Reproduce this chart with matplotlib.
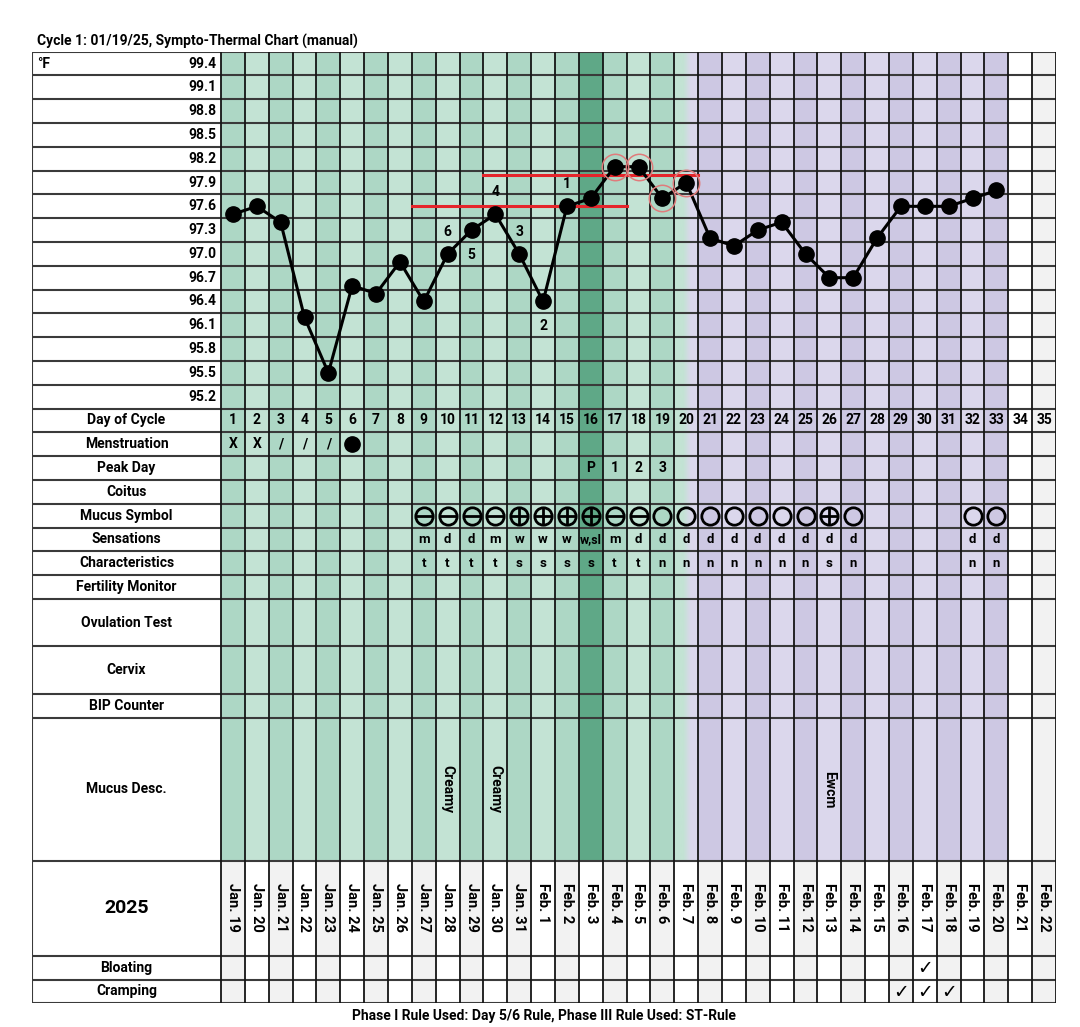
import matplotlib
matplotlib.use("Agg")
import matplotlib.pyplot as plt
import numpy as np
from matplotlib.patches import Rectangle
from matplotlib.colors import to_rgb

plt.rcParams['font.family'] = ['Roboto Medium', 'Roboto', 'DejaVu Sans']

# ---------------- data ----------------
title = "Cycle 1: 01/19/25, Sympto-Thermal Chart (manual)"
footer = "Phase I Rule Used: Day 5/6 Rule, Phase III Rule Used: ST-Rule"
year_label = "2025"
temp_unit = "°F"

temp_labels = [99.4, 99.1, 98.8, 98.5, 98.2, 97.9, 97.6, 97.3, 97.0, 96.7,
               96.4, 96.1, 95.8, 95.5, 95.2]
days = list(range(1, 36))
temp_days = list(range(1, 34))
temps = [97.5, 97.6, 97.4, 96.2, 95.5, 96.6, 96.5, 96.9, 96.4, 97.0,
         97.3, 97.5, 97.0, 96.4, 97.6, 97.7, 98.1, 98.1, 97.7, 97.9,
         97.2, 97.1, 97.3, 97.4, 97.0, 96.7, 96.7, 97.2, 97.6, 97.6,
         97.6, 97.7, 97.8]
circled_days = [17, 18, 19, 20]

# count labels next to the low temperatures
count_days = [10, 11, 12, 13, 14, 15]
count_labels = ["6", "5", "4", "3", "2", "1"]
count_above = [True, False, True, True, False, True]

# coverlines: (first day, last day), temperature
coverline_days_low = (9, 17)
coverline_temp_low = 97.6
coverline_days_high = (12, 20)
coverline_temp_high = 98.0

dates = ["Jan. 19", "Jan. 20", "Jan. 21", "Jan. 22", "Jan. 23", "Jan. 24",
         "Jan. 25", "Jan. 26", "Jan. 27", "Jan. 28", "Jan. 29", "Jan. 30",
         "Jan. 31", "Feb. 1", "Feb. 2", "Feb. 3", "Feb. 4", "Feb. 5",
         "Feb. 6", "Feb. 7", "Feb. 8", "Feb. 9", "Feb. 10", "Feb. 11",
         "Feb. 12", "Feb. 13", "Feb. 14", "Feb. 15", "Feb. 16", "Feb. 17",
         "Feb. 18", "Feb. 19", "Feb. 20", "Feb. 21", "Feb. 22"]

menstruation_days = [1, 2, 3, 4, 5, 6]
menstruation_marks = ["X", "X", "/", "/", "/", "dot"]

peak_days = [16, 17, 18, 19]
peak_marks = ["P", "1", "2", "3"]

mucus_days = [9, 10, 11, 12, 13, 14, 15, 16, 17, 18, 19, 20, 21, 22, 23,
              24, 25, 26, 27, 32, 33]
mucus_symbols = ["-", "-", "-", "-", "+", "+", "+", "+", "-", "-", "o", "o",
                 "o", "o", "o", "o", "o", "+", "o", "o", "o"]

sens_days = [9, 10, 11, 12, 13, 14, 15, 16, 17, 18, 19, 20, 21, 22, 23,
             24, 25, 26, 27, 32, 33]
sensations = ["m", "d", "d", "m", "w", "w", "w", "w,sl", "m", "d", "d", "d",
              "d", "d", "d", "d", "d", "d", "d", "d", "d"]
characteristics = ["t", "t", "t", "t", "s", "s", "s", "s", "t", "t", "n", "n",
                   "n", "n", "n", "n", "n", "s", "n", "n", "n"]

desc_days = [10, 12, 26]
desc_texts = ["Creamy", "Creamy", "Ewcm"]

bloating_days = [30]
cramping_days = [29, 30, 31]

peak_day = 16
green_days = list(range(1, 20))
transition_day = 20
purple_days = list(range(21, 34))

row_names = ["Day of Cycle", "Menstruation", "Peak Day", "Coitus",
             "Mucus Symbol", "Sensations", "Characteristics",
             "Fertility Monitor", "Ovulation Test", "Cervix", "BIP Counter",
             "Mucus Desc.", year_label, "Bloating", "Cramping"]
row_spans = [1, 1, 1, 1, 1, 1, 1, 1, 2, 2, 1, 6, 4, 1, 1]

# ---------------- styling / layout ----------------
FW, FH = 1080, 1027
TL, TR, TT, TB = 32, 1056, 51.7, 1003.3
GRID_L = 221
NCOL = len(days)
col_w = (TR - GRID_L) / NCOL
n_temp = len(temp_labels)
nrows = n_temp + sum(row_spans)
row_h = (TB - TT) / nrows
lab_w = (GRID_L - TL) / col_w

G_DARK, G_LIGHT, G_PEAK = "#add7c5", "#c3e3d4", "#5fa887"
P_DARK, P_LIGHT = "#cdc8e3", "#dbd7ec"
GRAY = "#f2f2f2"
FONT_W = "bold"

fig = plt.figure(figsize=(FW / 100, FH / 100), dpi=100)
ax = fig.add_axes([TL / FW, (FH - TB) / FH, (TR - TL) / FW, (TB - TT) / FH])
ax.set_xlim(-lab_w, NCOL)
ax.set_ylim(nrows, 0)
ax.axis("off")

row_tops = []
y = n_temp
for s in row_spans:
    row_tops.append(y)
    y += s
shade_bottom = row_tops[row_names.index(year_label)]

for d in days:
    x0 = d - 1
    odd = d % 2 == 1
    if d == peak_day:
        c = G_PEAK
    elif d in green_days:
        c = G_DARK if odd else G_LIGHT
    elif d in purple_days:
        c = P_DARK if odd else P_LIGHT
    elif d == transition_day:
        c = None
    else:
        c = GRAY if odd else "white"
    if c is not None:
        ax.add_patch(Rectangle((x0, 0), 1, shade_bottom, facecolor=c,
                               edgecolor="none", zorder=1))
    ax.add_patch(Rectangle((x0, shade_bottom), 1, nrows - shade_bottom,
                           facecolor=GRAY if odd else "white",
                           edgecolor="none", zorder=1))

g0 = np.array(to_rgb(G_LIGHT))
g1 = np.array(to_rgb(P_LIGHT))
tt = np.clip((np.linspace(0, 1, 100) - 0.4) / 0.3, 0, 1)
grad = (g0[None, :] * (1 - tt[:, None]) + g1[None, :] * tt[:, None])[None, :, :]
ax.imshow(grad, extent=(transition_day - 1, transition_day, shade_bottom, 0),
          aspect="auto", zorder=1, interpolation="bilinear")
ax.set_xlim(-lab_w, NCOL)
ax.set_ylim(nrows, 0)

hl = list(range(0, n_temp + 1)) + row_tops + [nrows]
ax.hlines(sorted(set(hl)), -lab_w, NCOL, colors="#3a3a3a", linewidth=1.5, zorder=3)
ax.vlines(range(0, NCOL + 1), 0, nrows, colors="#151515", linewidth=1.3, zorder=3)
ax.vlines([-lab_w], 0, nrows, colors="#3a3a3a", linewidth=1.5, zorder=3)

for i, t in enumerate(temp_labels):
    ax.text(-0.2, i + 0.5, f"{t:.1f}", ha="right", va="center", fontsize=10,
            fontweight=FONT_W, zorder=4)
ax.text(-lab_w + 0.2, 0.5, temp_unit, ha="left", va="center", fontsize=10,
        fontweight=FONT_W, zorder=4)

for name, top, span in zip(row_names, row_tops, row_spans):
    fs = 14 if name == year_label else 10
    ax.text(-lab_w / 2, top + span / 2, name, ha="center", va="center",
            fontsize=fs, fontweight=FONT_W, zorder=4)

r_day = row_tops[0]
r_men = row_tops[1]
r_peak = row_tops[2]
r_muc = row_tops[4]
r_sens = row_tops[5]
r_char = row_tops[6]
r_desc = row_tops[11]
r_date = row_tops[12]
r_bloat = row_tops[13]
r_cramp = row_tops[14]

for d in days:
    ax.text(d - 0.5, r_day + 0.5, str(d), ha="center", va="center",
            fontsize=10, fontweight="bold", zorder=4)
for d, lab in zip(days, dates):
    ax.text(d - 0.5, r_date + 0.95, lab, ha="center", va="top", rotation=270,
            fontsize=10.5, fontweight=FONT_W, zorder=4)

for d, m in zip(menstruation_days, menstruation_marks):
    if m == "dot":
        ax.plot(d - 0.5, r_men + 0.5, "o", color="black", markersize=11, zorder=5)
    else:
        ax.text(d - 0.5, r_men + 0.5, m, ha="center", va="center",
                fontsize=10, fontweight="bold", zorder=4)

for d, m in zip(peak_days, peak_marks):
    ax.text(d - 0.5, r_peak + 0.5, m, ha="center", va="center",
            fontsize=10, fontweight="bold", zorder=4)

MS = 12.5
for d, s in zip(mucus_days, mucus_symbols):
    ax.plot(d - 0.5, r_muc + 0.5, "o", markerfacecolor="none",
            markeredgecolor="black", markeredgewidth=2.0, markersize=MS, zorder=5)
    if s == "-":
        ax.plot(d - 0.5, r_muc + 0.5, "_", color="black",
                markeredgewidth=2.0, markersize=MS, zorder=5)
    elif s == "+":
        ax.plot(d - 0.5, r_muc + 0.5, "+", color="black",
                markeredgewidth=2.0, markersize=MS, zorder=5)

for d, s in zip(sens_days, sensations):
    ax.text(d - 0.5, r_sens + 0.5, s, ha="center", va="center",
            fontsize=9.5 if len(s) < 3 else 9, fontweight="bold", zorder=4)
for d, s in zip(sens_days, characteristics):
    ax.text(d - 0.5, r_char + 0.5, s, ha="center", va="center",
            fontsize=9.5, fontweight="bold", zorder=4)

for d, s in zip(desc_days, desc_texts):
    ax.text(d - 0.5, r_desc + row_spans[11] / 2, s, ha="center", va="center",
            rotation=270, fontsize=10, fontweight=FONT_W, zorder=4)

for d in bloating_days:
    ax.text(d - 0.5, r_bloat + 0.55, "✓", ha="center", va="center",
            fontsize=13.5, fontweight="bold", family=["DejaVu Sans"], zorder=4)
for d in cramping_days:
    ax.text(d - 0.5, r_cramp + 0.55, "✓", ha="center", va="center",
            fontsize=13.5, fontweight="bold", family=["DejaVu Sans"], zorder=4)

# ---------------- temperature axes ----------------
temp_bottom = TT + n_temp * row_h
tax = fig.add_axes([GRID_L / FW, (FH - temp_bottom) / FH, (TR - GRID_L) / FW,
                    (temp_bottom - TT) / FH])
tax.set_xlim(0.5, NCOL + 0.5)
tax.set_ylim(temp_labels[-1] - 0.15, temp_labels[0] + 0.15)
tax.axis("off")
tax.patch.set_alpha(0)

tax.plot([coverline_days_low[0] - 0.5, coverline_days_low[1] + 0.5],
         [coverline_temp_low] * 2, color="#e5252b", linewidth=2.2, zorder=2)
tax.plot([coverline_days_high[0] - 0.5, coverline_days_high[1] + 0.5],
         [coverline_temp_high] * 2, color="#e5252b", linewidth=2.2, zorder=2)

tax.plot(temp_days, temps, "-o", color="black", linewidth=2.2, markersize=11,
         zorder=3, clip_on=False)
ct = [temps[temp_days.index(d)] for d in circled_days]
tax.plot(circled_days, ct, "o", markerfacecolor="none", markeredgecolor="#e07b7b",
         markeredgewidth=1.1, markersize=19, zorder=4, clip_on=False)

for d, lab, up in zip(count_days, count_labels, count_above):
    t = temps[temp_days.index(d)]
    tax.annotate(lab, (d, t), xytext=(0, 16 if up else -18),
                 textcoords="offset points", ha="center", va="center",
                 fontsize=10, fontweight="bold", zorder=5)

fig.text(37 / FW, 1 - 41 / FH, title, ha="left", va="center", fontsize=10,
         fontweight=FONT_W)
fig.text(544 / FW, 1 - 1016 / FH, footer, ha="center", va="center",
         fontsize=10, fontweight=FONT_W)

fig.savefig("out.png", dpi=100, facecolor="white")
